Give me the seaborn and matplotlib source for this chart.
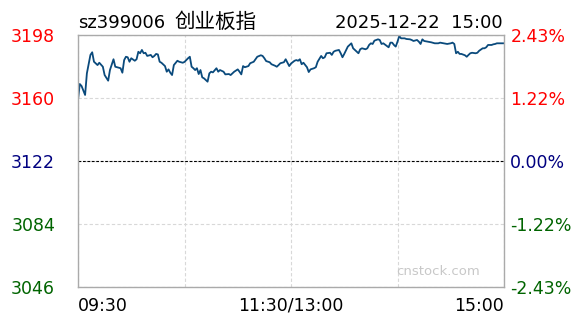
import matplotlib
matplotlib.use("Agg")
import matplotlib.pyplot as plt
import seaborn as sns
import pandas as pd

# ---- data ----
title_code = "sz399006"
title_name = "创业板指"
title_right = "2025-12-22  15:00"
prev_close = 3122
y_ticks = [3198, 3160, 3122, 3084, 3046]
x_tick_pos = [0, 60, 120, 180, 240]
x_tick_labels = ["09:30", "", "11:30/13:00", "", "15:00"]

minutes = [0, 1, 2, 4, 5, 7, 8, 9, 11, 12, 14, 15, 17, 18, 20, 21, 22, 24, 25, 26,
           27, 28, 29, 30, 32, 33, 34, 35, 36, 37, 38, 39, 41, 42, 43, 44, 45, 46, 47, 49,
           50, 51, 52, 53, 54, 56, 57, 59, 60, 62, 63, 64, 65, 66, 67, 68, 69, 70, 71, 73,
           74, 75, 76, 78, 79, 80, 82, 83, 85, 86, 87, 88, 90, 91, 92, 93, 94, 96, 97, 99,
           100, 101, 103, 104, 105, 106, 108, 109, 111, 112, 113, 114, 116, 117, 118, 119, 120, 122, 123, 124,
           125, 126, 127, 129, 130, 131, 133, 134, 135, 137, 138, 139, 140, 142, 143, 144, 145, 147, 148, 149,
           150, 152, 153, 154, 155, 156, 158, 159, 160, 162, 163, 164, 165, 166, 167, 169, 170, 171, 172, 174,
           175, 176, 177, 178, 179, 180, 181, 182, 184, 185, 187, 188, 189, 191, 192, 193, 194, 195, 197, 199,
           201, 203, 204, 206, 208, 210, 211, 212, 213, 214, 215, 216, 218, 219, 220, 221, 222, 224, 225, 226,
           228, 229, 230, 231, 233, 234, 235, 236, 238, 239, 240]
prices = [3158.6, 3168.2, 3167.0, 3161.6, 3174.6, 3185.7, 3187.3, 3181.6, 3179.6, 3181.0,
          3178.6, 3173.6, 3170.2, 3176.6, 3183.1, 3178.6, 3178.3, 3177.7, 3175.0, 3182.6,
          3184.6, 3184.3, 3181.6, 3183.7, 3182.2, 3183.1, 3187.6, 3186.7, 3188.7, 3186.7,
          3187.0, 3185.1, 3185.7, 3184.3, 3185.1, 3186.3, 3186.0, 3181.6, 3181.0, 3179.0,
          3175.6, 3177.0, 3175.0, 3173.6, 3179.6, 3182.2, 3181.6, 3181.0, 3181.5, 3183.7,
          3184.6, 3178.6, 3177.7, 3176.6, 3177.7, 3174.2, 3176.6, 3172.2, 3171.6, 3169.6,
          3174.6, 3175.6, 3175.2, 3177.7, 3175.6, 3176.6, 3175.6, 3174.0, 3174.2, 3173.6,
          3174.6, 3175.6, 3177.0, 3175.6, 3174.0, 3179.0, 3178.3, 3179.0, 3180.7, 3181.6,
          3183.1, 3184.6, 3185.5, 3185.1, 3183.7, 3182.0, 3181.3, 3180.1, 3179.2, 3178.6,
          3179.6, 3180.7, 3181.3, 3183.1, 3181.0, 3179.0, 3180.5, 3182.2, 3182.6, 3182.2,
          3183.1, 3180.1, 3181.0, 3178.3, 3175.4, 3177.0, 3177.7, 3178.3, 3181.6, 3185.1,
          3183.7, 3184.3, 3186.7, 3187.0, 3185.7, 3187.6, 3188.2, 3188.7, 3186.7, 3184.3,
          3186.3, 3190.7, 3191.7, 3192.7, 3189.7, 3188.7, 3186.7, 3189.1, 3189.7, 3189.1,
          3189.7, 3191.7, 3192.7, 3192.3, 3194.3, 3195.1, 3194.7, 3192.3, 3192.7, 3191.1,
          3190.3, 3193.1, 3193.1, 3191.7, 3190.7, 3193.7, 3197.1, 3195.7, 3195.7, 3195.3,
          3195.1, 3194.7, 3194.1, 3194.7, 3193.7, 3192.3, 3195.1, 3194.1, 3193.7, 3193.3,
          3192.7, 3192.7, 3193.1, 3192.7, 3192.3, 3192.7, 3193.1, 3192.3, 3186.7, 3187.6,
          3186.3, 3186.3, 3185.5, 3184.6, 3185.7, 3186.7, 3187.0, 3186.7, 3187.0, 3188.2,
          3189.7, 3189.7, 3190.3, 3191.7, 3191.7, 3192.1, 3192.3, 3192.7, 3192.7, 3192.7,
          3192.7]

df = pd.DataFrame({"minute": minutes, "price": prices})

# ---- style ----
sns.set_theme(style="white")
plt.rcParams["font.family"] = ["DejaVu Sans", "Noto Sans CJK SC"]

fig = plt.figure(figsize=(5.88, 3.24), dpi=100)
ax = fig.add_axes([78 / 588, 1 - 287 / 324, 426 / 588, (287 - 34.5) / 324])

sns.lineplot(data=df, x="minute", y="price", ax=ax, color="#0a4a7c", linewidth=1.3)
ax.axhline(prev_close, color="black", linewidth=0.8, linestyle=(0, (2.5, 1.5)), zorder=1.5)

ax.set_xlim(0, 240)
ax.set_ylim(y_ticks[-1], y_ticks[0])
ax.set_xlabel("")
ax.set_ylabel("")

# grid
ax.set_xticks(x_tick_pos)
ax.set_xticklabels(x_tick_labels)
ax.set_yticks(y_ticks)
ax.set_yticklabels([str(v) for v in y_ticks])
ax.grid(True, color="#d8d8d8", linestyle=(0, (3, 2)), linewidth=0.8)
ax.set_axisbelow(True)

for s in ax.spines.values():
    s.set_color("#aaaaaa")
    s.set_linewidth(1.0)

ax.tick_params(axis="both", length=0)
ax.tick_params(axis="y", pad=16.5, labelsize=12.5)
ax.tick_params(axis="x", pad=7, labelsize=12.5)


def color_for(v):
    if v > prev_close:
        return "#ff0000"
    if v < prev_close:
        return "#006400"
    return "#000080"


for lbl, v in zip(ax.get_yticklabels(), y_ticks):
    lbl.set_color(color_for(v))

xl = ax.get_xticklabels()
xl[0].set_ha("left")
xl[-1].set_ha("right")
for l in xl:
    l.set_color("black")

# right axis with percentages
ax2 = ax.twinx()
ax2.set_ylim(ax.get_ylim())
ax2.set_yticks(y_ticks)
pct_labels = [f"{(v / prev_close - 1) * 100:.2f}%" for v in y_ticks]
ax2.set_yticklabels(pct_labels)
ax2.tick_params(axis="y", length=0, pad=4.5, labelsize=12.5)
for lbl, v in zip(ax2.get_yticklabels(), y_ticks):
    lbl.set_color(color_for(v))
for s in ax2.spines.values():
    s.set_visible(False)
ax2.grid(False)

# titles
fig.text(78 / 588, 1 - 28 / 324, title_code, fontsize=13, color="black", ha="left", va="baseline")
fig.text(174 / 588, 1 - 28 / 324, title_name, fontsize=14.8, color="black", ha="left", va="baseline",
         family=["Noto Sans CJK SC", "DejaVu Sans"])
fig.text(503 / 588, 1 - 28 / 324, title_right, fontsize=13, color="black", ha="right", va="baseline")

# watermark
ax.text(0.845, 0.06, "cnstock.com", transform=ax.transAxes, fontsize=9.5,
        color="#c8c8c8", ha="center", va="center")

fig.savefig("out.png", dpi=100)
